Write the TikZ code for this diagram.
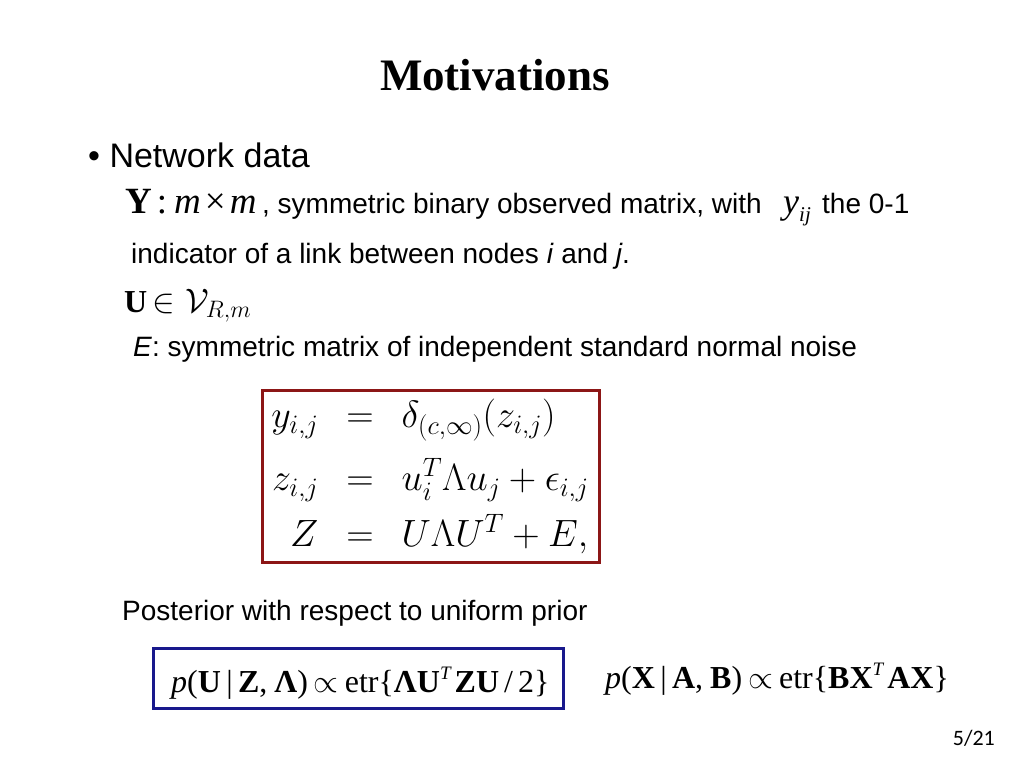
\RequirePackage{fix-cm}
\documentclass[tikz,border=0pt]{standalone}
\usepackage[no-math]{fontspec}
\setmainfont{Liberation Sans}
\newfontfamily\tms{Liberation Serif}
\newfontfamily\pagefont{Carlito}
\definecolor{boxred}{RGB}{140,22,22}
\definecolor{boxblue}{RGB}{24,24,140}
\newcommand{\supT}{\raisebox{13pt}{\fontsize{19}{22}\selectfont\textit{T}}}
\begin{document}
\begin{tikzpicture}[x=1pt,y=-1pt,
  txt/.style={anchor=base west,inner sep=0pt,font=\fontsize{28}{34}\selectfont},
  frm/.style={anchor=base west,inner sep=0pt,font=\tms\fontsize{32}{40}\selectfont},
  eqbox/.style={draw=boxred,line width=3pt,inner sep=0pt},
  pbox/.style={draw=boxblue,line width=3pt,inner sep=0pt}]
\useasboundingbox (0,0) rectangle (1024,768);
\fill[white] (0,0) rectangle (1024,768);
\node[anchor=base,inner sep=0pt,font=\tms\bfseries\fontsize{45}{54}\selectfont] (title) at (495,90) {Motivations};
\node[anchor=base west,inner sep=0pt,font=\fontsize{34}{40}\selectfont] (b1) at (88,167) {• Network data};
\node[frm,font=\tms\fontsize{37}{44}\selectfont] (Y) at (125,213) {\textbf{Y}\kern5pt:\kern7pt\textit{m}\kern4pt×\kern4pt\textit{m}};
\node[txt] (r1a) at (262,213) {, symmetric binary observed matrix, with};
\node[frm,font=\tms\fontsize{36}{44}\selectfont] (yij) at (783,213) {\textit{y}\raisebox{-8pt}{\fontsize{21}{24}\selectfont\textit{ij}}};
\node[txt] (r1b) at (822,213) {the 0-1};
\node[txt] (r2) at (131,263) {indicator of a link between nodes \textit{i} and \textit{j}.};
\node[frm,font=\tms\fontsize{32}{40}\selectfont] (U) at (124,312) {\textbf{U}\fontsize{34}{40}\selectfont$\,\in\mathcal{V}_{R,m}$};
\node[txt] (r4) at (133,356) {\textit{E}: symmetric matrix of independent standard normal noise};
\node[eqbox,minimum width=337,minimum height=172] (rbox) at (430.5,476.5) {};
\node[inner sep=0pt,font=\fontsize{38}{56}\selectfont] (eqs) at (430,476) {%
  \setlength{\arraycolsep}{14pt}%
  $\begin{array}{rcl}
  y_{i,j} & = & \delta_{(c,\infty)}(z_{i,j})\\[7pt]
  z_{i,j} & = & u_i^T\Lambda u_j+\epsilon_{i,j}\\
  Z & = & U\Lambda U^T+E,
  \end{array}$};
\node[txt] (post) at (122,620) {Posterior with respect to uniform prior};
\node[pbox,minimum width=410,minimum height=60] (bbox) at (358,678) {};
\node[frm] (p1) at (171,692) {\textit{p}(\textbf{U}\,|\,\textbf{Z},\kern7pt\textbf{Λ})\kern6pt$\propto$\kern6pt{}etr\{\textbf{ΛU}\supT\kern3pt\textbf{ZU}\kern5pt/\kern5pt{}2\}};
\node[frm] (p2) at (605,688) {\textit{p}(\textbf{X}\,|\,\textbf{A},\kern7pt\textbf{B})\kern6pt$\propto$\kern6pt{}etr\{\textbf{BX}\supT\kern3pt\textbf{AX}\}};
\node[anchor=base east,inner sep=0pt,font=\pagefont\fontsize{22}{26}\selectfont] (pg) at (995,745) {5/21};
\end{tikzpicture}
\end{document}
